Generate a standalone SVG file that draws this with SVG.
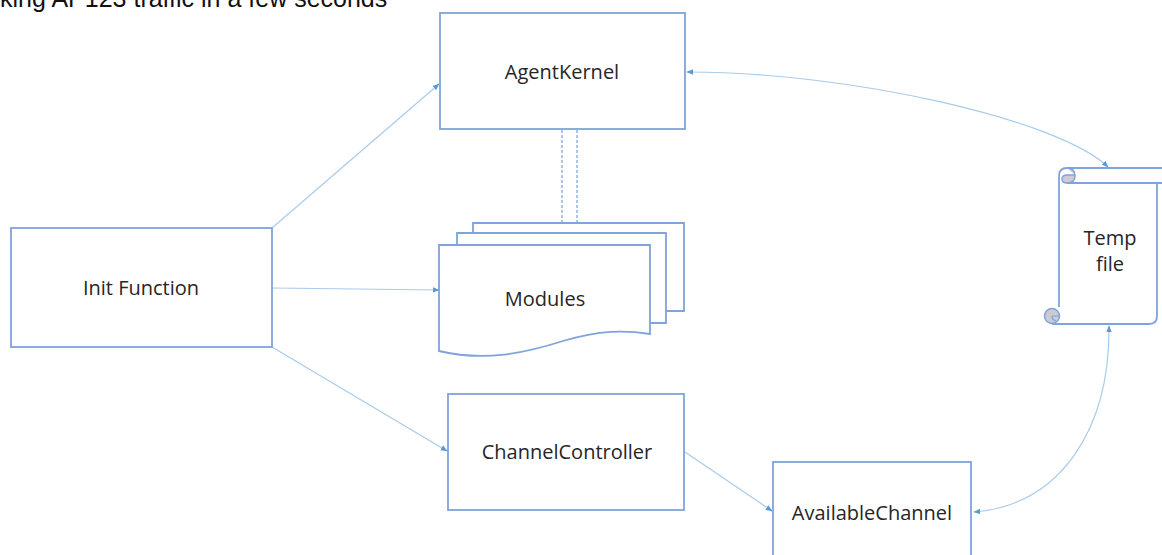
<svg xmlns="http://www.w3.org/2000/svg" width="1162" height="555" viewBox="0 0 1162 555">
<style>
.box{fill:#fff;stroke:#7FA3DA;stroke-width:1.8}
.lbl{font-family:"Open Sans","Noto Sans",sans-serif;font-size:20px;fill:#262626;text-anchor:middle}
.conn{fill:none;stroke:#A9CBEB;stroke-width:1.2}
.dash{fill:none;stroke:#8FB4E3;stroke-width:1.5;stroke-dasharray:3 2}
</style>
<defs>
<marker id="ah" viewBox="0 0 10 10" refX="9" refY="5" markerWidth="7" markerHeight="7" orient="auto-start-reverse" markerUnits="userSpaceOnUse">
<path d="M0,1 L10,5 L0,9 Z" fill="#5B9BD5"/>
</marker>
</defs>
<rect width="1162" height="555" fill="#fff"/>
<text x="0" y="7" font-family="Liberation Sans, Arial, sans-serif" font-size="25" fill="#111">king AP123 traffic in a few seconds</text>

<g id="connectors">
<line class="conn" x1="272" y1="228" x2="439" y2="84" marker-end="url(#ah)"/>
<line class="conn" x1="272" y1="288" x2="439" y2="290" marker-end="url(#ah)"/>
<line class="conn" x1="272" y1="347" x2="447" y2="451" marker-end="url(#ah)"/>
<line class="conn" x1="685" y1="452" x2="772" y2="511" marker-end="url(#ah)"/>
<path class="conn" d="M687,72 C850,72 1060,120 1108,167" marker-start="url(#ah)" marker-end="url(#ah)"/>
<path class="conn" d="M974,512 C1060,505 1110,430 1109,326" marker-start="url(#ah)" marker-end="url(#ah)"/>
<line class="dash" x1="562" y1="130" x2="562" y2="223"/>
<line class="dash" x1="577" y1="130" x2="577" y2="223"/>
</g>

<g id="agentkernel">
<rect class="box" x="440" y="13" width="245" height="116"/>
<text class="lbl" x="562" y="79">AgentKernel</text>
</g>

<g id="init">
<rect class="box" x="11" y="228" width="261" height="119"/>
<text class="lbl" x="141" y="295">Init Function</text>
</g>

<g id="modules">
<path class="box" d="M473,233 L473,223 L684,223 L684,311 L666,311"/>
<path class="box" d="M457,245 L457,233 L666,233 L666,323 L650,323"/>
<path class="box" d="M439,245 L650,245 L650,334 C625,330 600,330 563,341 C525,353 485,362 439,351 Z"/>
<text class="lbl" x="545" y="306">Modules</text>
</g>

<g id="channelcontroller">
<rect class="box" x="448" y="394" width="236" height="116"/>
<text class="lbl" x="567" y="459">ChannelController</text>
</g>

<g id="availablechannel">
<rect class="box" x="773" y="462" width="198" height="110"/>
<text class="lbl" x="872" y="520">AvailableChannel</text>
</g>

<g id="tempfile">
<path class="box" d="M1059,307 L1059,176 Q1059,168 1067,168 L1170,168 L1170,183 L1067,183"/>
<path class="box" d="M1157,183 L1157,316 Q1157,324 1149,324 L1052,324"/>
<path d="M1067,168 Q1075,168 1075,176 Q1075,183 1067,183 Q1062,183 1062,179 Q1062,175 1067,175 L1075,175" fill="#C9CCD3" stroke="#7FA3DA" stroke-width="1.5"/>
<circle cx="1052" cy="316" r="7.5" fill="#C9CCD3" stroke="#7FA3DA" stroke-width="1.5"/>
<path d="M1052,316 L1059,316 M1052,316 Q1052,320 1056,321" fill="none" stroke="#7FA3DA" stroke-width="1.2"/>
<text class="lbl" x="1110" y="245">Temp</text>
<text class="lbl" x="1110" y="271">file</text>
</g>
</svg>
